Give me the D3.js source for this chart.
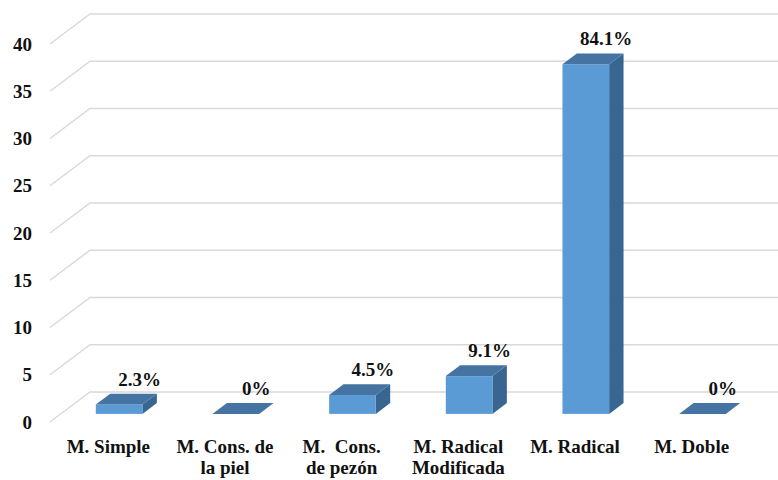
<!DOCTYPE html>
<html>
<head>
<meta charset="utf-8">
<script src="https://cdn.jsdelivr.net/npm/d3@7"></script>
<style>
  body { margin: 0; background: #fff; }
  svg { display: block; }
</style>
</head>
<body>
<div id="chart"></div>
<script>
const categories = [
    ['M. Simple'],
    ['M. Cons. de', 'la piel'],
    ['M.  Cons.', 'de pezón'],
    ['M. Radical', 'Modificada'],
    ['M. Radical'],
    ['M. Doble']
];
const values = [1, 0, 2, 4, 37, 0];
const pctLabels = ['2.3%', '0%', '4.5%', '9.1%', '84.1%', '0%'];
const yTicks = [0, 5, 10, 15, 20, 25, 30, 35, 40];

const W = 778, H = 480;
const FONT = "'Liberation Serif', 'DejaVu Serif', serif";
// depth of the 3d floor (back wall offset)
const depth = { dx: 40, dy: -30 };
const tFront = 0.27, tBack = 0.63;

const svg = d3.select('#chart').append('svg')
    .attr('width', W)
    .attr('height', H)
    .style('font-family', FONT);

svg.append('rect').attr('width', W).attr('height', H).attr('fill', '#fff');

const x = d3.scaleBand()
    .domain(d3.range(categories.length))
    .range([50, 750])
    .paddingInner(0.6)
    .paddingOuter(0.3);

const y = d3.scaleLinear()
    .domain([0, 40])
    .range([422, 44]);

const off = t => [depth.dx * t, depth.dy * t];

// gridlines: diagonal on the side wall + horizontal on back wall
const grid = svg.append('g').attr('class', 'grid');
yTicks.forEach(v => {
    const yf = y(v), yb = y(v) + depth.dy;
    grid.append('path')
        .attr('d', `M50,${yf}L${50 + depth.dx},${yb}L${W},${yb}`)
        .attr('fill', 'none')
        .attr('stroke', '#d9d9d9')
        .attr('stroke-width', 1.5);
});

function styleText(sel) {
    sel.attr('font-family', FONT)
        .attr('font-weight', 'bold')
        .attr('font-size', 19)
        .attr('fill', '#111');
}

// y axis labels
svg.append('g')
    .selectAll('text')
    .data(yTicks)
    .join('text')
    .call(styleText)
    .attr('x', 32)
    .attr('y', d => y(d))
    .attr('dy', '0.35em')
    .attr('text-anchor', 'end')
    .text(d => d);

// bars
const bars = svg.append('g').attr('class', 'bars');
values.forEach((v, i) => {
    const [fx, fy] = off(tFront);
    const [bx, by] = off(tBack);
    const x0 = x(i) + fx, x1 = x(i) + x.bandwidth() + fx;
    const yb = y(0) + fy, yt = y(v) + fy;
    const ddx = bx - fx, ddy = by - fy;
    const g = bars.append('g');
    if (v > 0) {
        g.append('path')
            .attr('d', `M${x1},${yb}L${x1 + ddx},${yb + ddy}L${x1 + ddx},${yt + ddy}L${x1},${yt}Z`)
            .attr('fill', '#386691');
        g.append('rect')
            .attr('x', x0).attr('y', yt)
            .attr('width', x1 - x0).attr('height', yb - yt)
            .attr('fill', '#5b9bd5');
    }
    g.append('path')
        .attr('d', `M${x0},${yt}L${x0 + ddx},${yt + ddy}L${x1 + ddx},${yt + ddy}L${x1},${yt}Z`)
        .attr('fill', '#4574a3');
});

// percentage labels
const [lbx, lby] = off(tBack);
svg.append('g')
    .selectAll('text')
    .data(values)
    .join('text')
    .call(styleText)
    .attr('x', (d, i) => x(i) + x.bandwidth() / 2 + lbx + 6)
    .attr('y', d => y(d) + lby - 8)
    .attr('text-anchor', 'middle')
    .text((d, i) => pctLabels[i]);

// category labels
const cat = svg.append('g')
    .selectAll('text')
    .data(categories)
    .join('text')
    .call(styleText)
    .attr('x', (d, i) => x(i) + x.bandwidth() / 2)
    .attr('y', 453)
    .attr('text-anchor', 'middle')
    .style('white-space', 'pre');

cat.selectAll('tspan')
    .data((d, i) => d.map(s => ({ s, i })))
    .join('tspan')
    .attr('x', d => x(d.i) + x.bandwidth() / 2)
    .attr('dy', (d, j) => j === 0 ? 0 : 21)
    .text(d => d.s);
</script>
</body>
</html>
